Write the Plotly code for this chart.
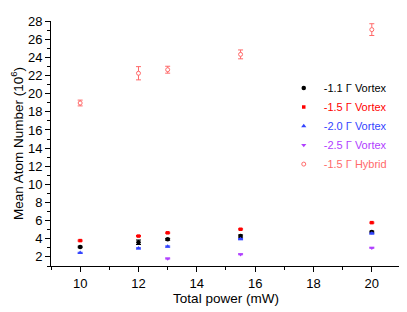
import plotly.graph_objects as go

power = [10, 12, 13, 15.5, 20]
power_25 = [13, 15.5, 20]

v11 = [3.1, 3.62, 3.94, 4.3, 4.74]
v11_err = [0.08, 0.25, 0.1, 0.12, 0.1]
v15 = [3.8, 4.3, 4.66, 5.05, 5.78]
v15_err = [0.06, 0.06, 0.06, 0.06, 0.06]
v20 = [2.45, 2.95, 3.15, 3.97, 4.59]
v20_err = [0.06, 0.06, 0.06, 0.06, 0.06]
v25 = [1.82, 2.29, 3.0]
v25_err = [0.05, 0.05, 0.05]
hyb = [18.97, 22.25, 22.64, 24.33, 27.06]
hyb_err = [0.32, 0.73, 0.38, 0.49, 0.65]

names = ["-1.1 Γ Vortex", "-1.5 Γ Vortex", "-2.0 Γ Vortex", "-2.5 Γ Vortex", "-1.5 Γ Hybrid"]
colors = ["#000000", "#FF0000", "#3344FF", "#B040FF", "#FF6A6A"]

fig = go.Figure()

def add(x, y, e, i, symbol, size, open_=False):
    c = colors[i]
    fig.add_trace(go.Scatter(
        x=x, y=y, mode="markers",
        name=f"<span style='color:{c}'>{names[i]}</span>",
        marker=dict(symbol=symbol, size=size, color="white" if open_ else c,
                    line=dict(color=c, width=1 if open_ else 0)),
        error_y=dict(type="data", array=e, visible=True, color=c, thickness=1, width=2.5),
    ))

add(power, v11, v11_err, 0, "circle", 4.5)
add(power, v15, v15_err, 1, "square", 3.5)
add(power, v20, v20_err, 2, "triangle-up", 4.5)
add(power_25, v25, v25_err, 3, "triangle-down", 4.5)
add(power, hyb, hyb_err, 4, "circle", 4, open_=True)

axis_common = dict(
    showline=True, linecolor="black", linewidth=1,
    ticks="outside", ticklen=5, tickwidth=1, tickcolor="black",
    showgrid=False, zeroline=False,
    tickfont=dict(family="Liberation Sans, Arial, sans-serif", size=13, color="black"),
    minor=dict(ticks="outside", ticklen=3, tickwidth=1, tickcolor="black", dtick=1),
    mirror=False,
    ticklabeloverflow="allow",
)

fig.update_layout(
    width=399, height=304,
    margin=dict(l=39, r=6, t=7, b=46),
    paper_bgcolor="white", plot_bgcolor="white",
    font=dict(family="Liberation Sans, Arial, sans-serif", color="black"),
    xaxis=dict(range=[9, 21.001], dtick=2, tick0=0,
               title=dict(text="Total power (mW)", font=dict(size=13.5), standoff=2),
               **axis_common),
    yaxis=dict(range=[1, 28.01], dtick=2, tick0=0,
               title=dict(text="Mean Atom Number (10<sup>6</sup>)", font=dict(size=13.5), standoff=4),
               **axis_common),
    legend=dict(x=0.665, y=0.571, xanchor="left", yanchor="middle",
                bgcolor="rgba(0,0,0,0)", borderwidth=0,
                font=dict(size=11), tracegroupgap=0),
    showlegend=True,
)

fig.write_html("out.html")
